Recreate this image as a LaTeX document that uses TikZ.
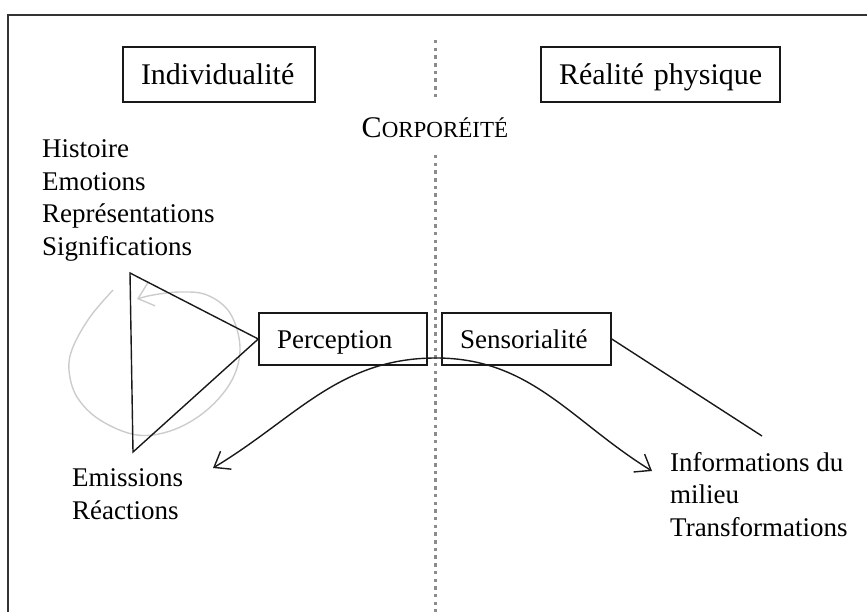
\documentclass[tikz,border=0pt]{standalone}
\usepackage{fontspec}
\setmainfont{Liberation Serif}
\usetikzlibrary{arrows.meta}
\newcommand\fbig{\fontsize{30}{36}\selectfont}
\newcommand\fmid{\fontsize{27}{32.5}\selectfont}
\newcommand\fsc{\fontsize{23}{28}\selectfont}
\tikzset{
  frameline/.style={draw=black!80, line width=1.4pt},
  boxnode/.style={draw=black!90, line width=1.5pt, inner xsep=18pt, inner ysep=0pt, align=left},
  bigbox/.style={boxnode, font=\fbig, minimum height=55pt, text height=27pt, text depth=6pt},
  midbox/.style={boxnode, font=\fmid, minimum height=52pt, text height=25pt, text depth=5.6pt},
  txt/.style={inner sep=0pt, align=left, font=\fmid},
  conn/.style={draw=black!90, line width=1.4pt},
  arrowed/.style={conn, {Straight Barb[length=14pt,width=21pt]}-{Straight Barb[length=14pt,width=21pt]}},
  greyloop/.style={draw=black!20, line width=1.4pt, -{Straight Barb[length=14pt,width=24pt]}},
  dotline/.style={draw=black!45, line width=3.5pt, dash pattern=on 3.5pt off 4.2pt}
}
\begin{document}
\begin{tikzpicture}[x=1pt,y=-1pt]
\useasboundingbox (0,0) rectangle (867,612);
% frame
\coordinate (fb) at (8,612);
\coordinate (fc) at (8,15);
\coordinate (fr) at (867,15);
\draw[frameline] (fb) -- (fc) -- (fr);
% dotted divider
\coordinate (d1) at (435.5,40);
\coordinate (d2) at (435.5,97);
\coordinate (d3) at (435.5,155);
\coordinate (d4) at (435.5,612);
\draw[dotline] (d1) -- (d2);
\draw[dotline] (d3) -- (d4);
% boxes
\node[bigbox, text width=156pt] (indiv) at (219,74.5) {\mbox{Individualité}};
\node[bigbox, text width=203pt] (real) at (660.5,74.5) {\mbox{Réalité physique}};
\node[midbox, text width=132pt] (perc) at (343,339) {\mbox{Perception}};
\node[midbox, text width=133pt] (sens) at (526.5,339) {\mbox{Sensorialité}};
% title
\node[inner sep=0pt, anchor=base] (corp) at (435,138) {\fbig C\fsc ORPORÉITÉ};
% texts (base anchor = baseline of the last line)
\node[txt, anchor=base west] (hist) at (42,255.5) {Histoire\\Emotions\\Représentations\\Significations};
\node[txt, anchor=base west] (emis) at (72,519) {Emissions\\Réactions};
\node[txt, anchor=base west] (info) at (670,536) {Informations du\\milieu\\Transformations};
% grey loop
\draw[greyloop] plot[smooth, tension=0.6] coordinates {(113,290) (90,317) (73,347) (69,370) (77,397) (100,420) (137,435) (173,430) (207,410) (232,380) (240,347) (230,313) (207,295) (180,292) (153,295) (137,299)};
% triangle
\coordinate (tt) at (130,273);
\coordinate (tb) at (133,452);
\draw[conn, line join=miter] (tt) -- (perc.west) -- (tb) -- cycle;
% arc
\coordinate (al) at (213,468);
\coordinate (pk) at (436,358);
\coordinate (ar) at (652,471);
\draw[arrowed] (al) .. controls (296,418) and (339,358) .. (pk) .. controls (531,358) and (571,421) .. (ar);
% sensorialite line
\coordinate (se) at (762,436);
\draw[conn] (sens.east) -- (se);
\end{tikzpicture}
\end{document}
